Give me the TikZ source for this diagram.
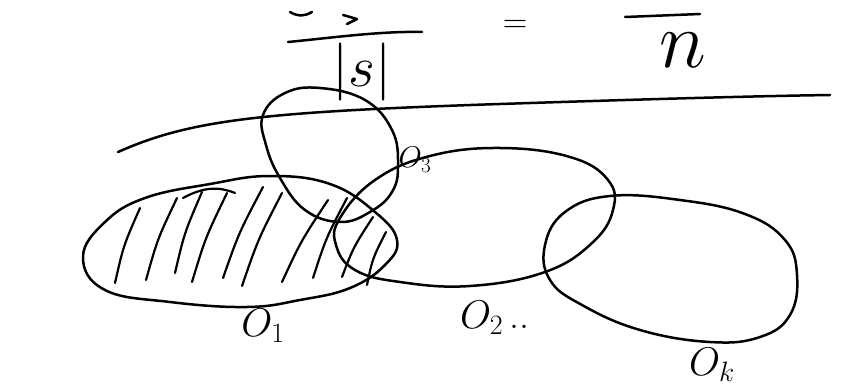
\RequirePackage{fix-cm}
\documentclass[tikz,border=0pt]{standalone}
\begin{document}
\begin{tikzpicture}[x=1pt,y=-1pt,
  ink/.style={line width=2.5pt,line cap=round,line join=round},
  hatch/.style={line width=2.2pt,line cap=round},
  lab/.style={inner sep=0pt,font=\fontsize{40}{42}\selectfont}]
\useasboundingbox (0,0) rectangle (859,390);
% top formula
\draw[ink] (290,12) .. controls (298,17) and (306,16) .. (312,12);
\draw[ink] (343,15) -- (357,19) -- (347,24);
\draw[ink] (288,42) .. controls (330,38) and (380,31) .. (422,32);
\draw[ink] (625,17) -- (700,14);
\node[lab,font=\fontsize{58}{60}\selectfont] (s) at (362,72) {$|s|$};
\node[lab,font=\fontsize{34}{36}\selectfont] (eq) at (515,26) {$=$};
\node[lab,font=\fontsize{80}{82}\selectfont] (n) at (683,50) {$n$};
% long line
\draw[ink] (118,152) .. controls (190,120) and (260,112) .. (500,104)
  .. controls (650,99) and (760,96) .. (830,95);
% sets
\draw[ink] plot[smooth cycle,tension=0.7] coordinates {(83,257) (105,222) (145,198) (210,184) (270,176) (330,184) (375,212) (397,240) (385,265) (350,288) (300,300) (247,307) (170,302) (105,290)};
\draw[ink] plot[smooth cycle,tension=0.7] coordinates {(263,115) (285,93) (320,88) (365,100) (392,130) (398,165) (392,192) (370,212) (340,222) (305,210) (280,178) (266,145)};
\draw[ink] plot[smooth cycle,tension=0.7] coordinates {(340,218) (375,180) (430,156) (500,148) (570,157) (608,180) (613,210) (592,243) (545,272) (470,286) (400,282) (355,270) (336,245)};
\draw[ink] plot[smooth cycle,tension=0.7] coordinates {(545,245) (565,212) (610,196) (680,200) (745,214) (785,240) (797,275) (790,315) (760,337) (710,342) (640,330) (582,305) (550,280)};
% hatching in O1
\foreach \xa/\ya/\xb/\yb in {115/283/140/208, 146/280/177/198, 175/273/202/192,
  192/282/227/193, 223/278/263/187, 242/286/282/193, 282/282/328/200,
  313/278/347/198, 342/277/373/217, 367/285/386/232}
  \draw[hatch] (\xa,\ya) .. controls ({(\xa+\xb)/2-4},{(\ya+\yb)/2}) .. (\xb,\yb);
\draw[hatch] (183,198) .. controls (205,186) and (220,187) .. (235,193);
% labels
\node[lab] (o1) at (263,326) {$O_1$};
\node[lab] (o2) at (495,318) {$O_2$\,..};
\node[lab,font=\fontsize{30}{32}\selectfont] (o3) at (415,160) {$O_3$};
\node[lab] (ok) at (712,365) {$O_k$};
\end{tikzpicture}
\end{document}
